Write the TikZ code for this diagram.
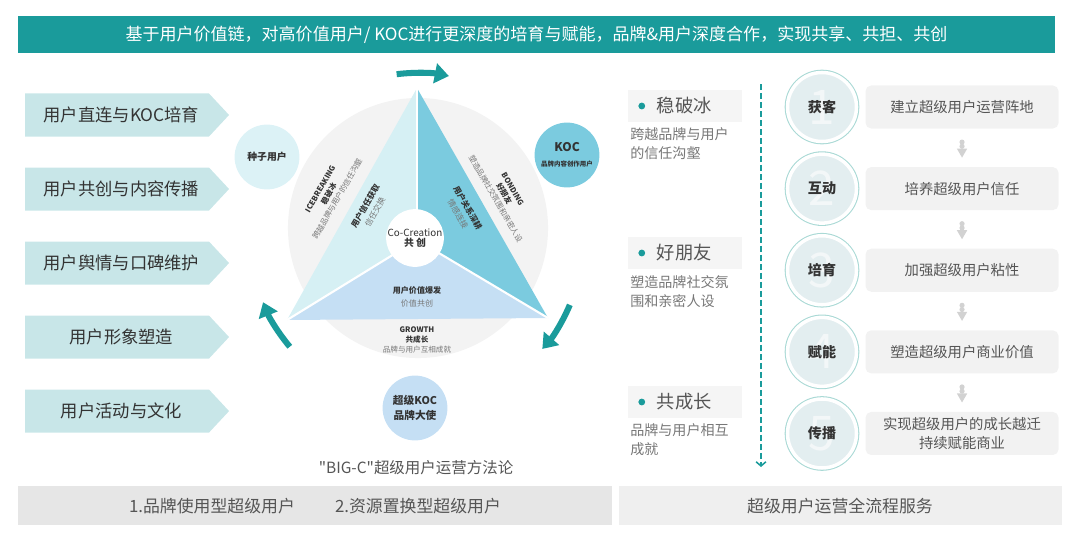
\documentclass[tikz,border=0pt]{standalone}
\usepackage{fontspec}
\setmainfont{Noto Sans CJK SC}
\newfontfamily\plaincjk{Noto Sans CJK SC}
\usepackage{tikz}
\usetikzlibrary{positioning,shapes.symbols,shapes.geometric,arrows.meta}
\definecolor{tealmain}{HTML}{1A9B9B}
\definecolor{tagfill}{HTML}{C8E6E8}
\definecolor{discgrey}{HTML}{F3F3F3}
\definecolor{icefill}{HTML}{D6F0F4}
\definecolor{bondfill}{HTML}{7BCBDF}
\definecolor{growfill}{HTML}{C5DFF4}
\definecolor{seedfill}{HTML}{DCF2F6}
\definecolor{ringteal}{HTML}{A9D9D5}
\definecolor{stagefill}{HTML}{E3EEF0}
\definecolor{boxgrey}{HTML}{F2F2F2}
\definecolor{pillgrey}{HTML}{F5F5F5}
\definecolor{barleft}{HTML}{E6E6E6}
\definecolor{barright}{HTML}{EFEFEF}
\definecolor{inkdark}{HTML}{333333}
\definecolor{inkmid}{HTML}{555555}
\definecolor{inklight}{HTML}{777777}
\definecolor{marks}{HTML}{D2D2D2}
\tikzstyle{banner}=[rectangle,fill=tealmain,text=white,minimum width=25.925cm,
                    minimum height=0.925cm,font=\fontsize{12.1}{14}\selectfont]
\tikzstyle{tag}=[signal,signal to=east,signal pointer angle=94,fill=tagfill,
                 text=inkdark,minimum width=5.1cm,minimum height=1.075cm,
                 inner sep=0pt,font=\fontsize{12.3}{14}\selectfont,
                 execute at begin node=\hspace*{0.22cm}]
\tikzstyle{sepline}=[draw=white,line width=1.5pt]
\tikzstyle{usercirc}=[circle,minimum size=1.62cm,inner sep=0pt,align=center,text=inkdark]
\tikzstyle{edgetxt}=[align=center,inner sep=0pt,text=inkdark,font=\fontsize{5.4}{7}\selectfont]
\tikzstyle{hub}=[circle,fill=white,minimum size=1.4cm,inner sep=0pt,align=center,
                 text=inkdark,font=\fontsize{7}{8}\selectfont]
\tikzstyle{cyclearrow}=[draw=tealmain,line width=4.3pt,-{Triangle[length=10pt,width=14pt]}]
\tikzstyle{pill}=[rectangle,fill=pillgrey,minimum width=2.85cm,minimum height=0.8cm]
\tikzstyle{tealdot}=[circle,fill=tealmain,minimum size=0.17cm,inner sep=0pt]
\tikzstyle{pilltxt}=[inner sep=0pt,text=inkmid,font=\fontsize{13}{14}\selectfont]
\tikzstyle{desc}=[align=left,inner sep=0pt,text=inklight,font=\fontsize{10}{13.5}\selectfont]
\tikzstyle{flowline}=[draw=tealmain,line width=1.1pt,dash pattern=on 4pt off 2.4pt,
                      -{Straight Barb[length=3pt,width=7pt]}]
\tikzstyle{stagecirc}=[circle,minimum size=1.725cm,inner sep=0pt,fill=stagefill,
                       draw=white,line width=2.5pt,preaction={draw=ringteal,line width=4pt}]
\tikzstyle{bignum}=[text=white!55!stagefill,font=\fontsize{34}{34}\selectfont]
\tikzstyle{stagetxt}=[text=inkdark,font=\bfseries\fontsize{10}{12}\selectfont]
\tikzstyle{stagebox}=[rectangle,rounded corners=4pt,fill=boxgrey,minimum width=4.825cm,
                      minimum height=1.075cm,align=center,text=inkmid,
                      font=\fontsize{10.2}{13}\selectfont]
\tikzstyle{gdot}=[circle,fill=marks,minimum size=0.13cm,inner sep=0pt]
\tikzstyle{gtri}=[regular polygon,regular polygon sides=3,shape border rotate=180,
                  fill=marks,minimum size=0.3cm,inner sep=0pt]
\tikzstyle{bar}=[rectangle,minimum height=0.975cm]
\tikzstyle{bartxt}=[text=inkmid,font=\fontsize{12}{14}\selectfont]

\begin{document}
\begin{tikzpicture}[x=0.025cm,y=-0.025cm]
  \useasboundingbox (0,0) rectangle (1080,540);

  \node[banner] (title) at (536.5,34.5)
    {基于用户价值链，对高价值用户/ KOC进行更深度的培育与赋能，品牌\&用户深度合作，实现共享、共担、共创};

  % left column
  \begin{scope}[node distance=1.85cm]
	\node[tag] (t1) at (117,115) {用户直连与KOC培育};
	\node[tag] (t2) [below of=t1] {用户共创与内容传播};
	\node[tag] (t3) [below of=t2] {用户舆情与口碑维护};
	\node[tag] (t4) [below of=t3] {用户形象塑造};
	\node[tag] (t5) [below of=t4] {用户活动与文化};
  \end{scope}

  % BIG-C triangle
  \node[circle,fill=discgrey,minimum size=6.5cm] (disc) at (418,228) {};
  \coordinate (mid) at (417,240);
  \coordinate (apex) at (417,88);
  \coordinate (lcorner) at (287,320);
  \coordinate (rcorner) at (548,318);
  \fill[icefill] (apex) -- (lcorner) -- (mid) -- cycle;
  \fill[bondfill] (apex) -- (rcorner) -- (mid) -- cycle;
  \fill[growfill] (lcorner) -- (rcorner) -- (mid) -- cycle;
  \draw[sepline] (mid) -- (apex);
  \draw[sepline] (mid) -- (lcorner);
  \draw[sepline] (mid) -- (rcorner);
  \node[hub] (hub) at (415,238) {Co-Creation\\[-1pt]\textbf{共 创}};

  \node[edgetxt,rotate=60] (ice) at (329,194)
    {\textbf{ICEBREAKING}\\\textbf{稳破冰}\\\textcolor{inklight}{跨越品牌与用户的信任沟壑}};
  \node[edgetxt,rotate=60,font=\fontsize{5.7}{8}\selectfont] (trust) at (370,209)
    {\textbf{用户信任获取}\\\textcolor{inklight}{信任交换}};
  \node[edgetxt,rotate=-60] (bond) at (504,194)
    {\textbf{BONDING}\\\textbf{好朋友}\\\textcolor{inklight}{塑造品牌社交氛围和亲密人设}};
  \node[edgetxt,rotate=-60,font=\fontsize{5.7}{8}\selectfont] (deep) at (463,211)
    {\textbf{用户关系深耕}\\\textcolor{inklight}{情感连接}};
  \node[edgetxt,font=\fontsize{5.7}{7}\selectfont] (burst) at (417,297)
    {\textbf{用户价值爆发}\\[2.5pt]\textcolor{inklight}{价值共创}};
  \node[edgetxt] (grow) at (417,340)
    {\textbf{GROWTH}\\\textbf{共成长}\\\textcolor{inklight}{品牌与用户互相成就}};

  \node[usercirc,fill=seedfill,font=\bfseries\fontsize{7}{8}\selectfont] (seed) at (267,157) {种子用户};
  \node[usercirc,fill=bondfill] (koc) at (567,155)
    {{\bfseries\fontsize{8.5}{10}\selectfont KOC}\\[-1pt]{\bfseries\fontsize{4.6}{6}\selectfont 品牌内容创作用户}};
  \node[usercirc,fill=growfill,font=\bfseries\fontsize{7.6}{10.5}\selectfont] (skoc) at (415,408)
    {超级KOC\\品牌大使};

  \path (mid) ++(97:4.175cm) coordinate (a1s);
  \path (mid) ++(-23:4.15cm) coordinate (a2s);
  \path (mid) ++(220:4.15cm) coordinate (a3s);
  \draw[cyclearrow] (a1s) arc[start angle=97,end angle=79,radius=4.175cm];
  \draw[cyclearrow] (a2s) arc[start angle=-23,end angle=-41,radius=4.15cm];
  \draw[cyclearrow] (a3s) arc[start angle=220,end angle=202,radius=4.15cm];

  \node[bartxt,font=\plaincjk\fontsize{11}{13}\selectfont] (cap) at (416,468) {"BIG-C"超级用户运营方法论};

  % middle column
  \node[pill] (p1) at (685,106) {};
  \node[tealdot] (d1) [right=0.26cm of p1.west] {};
  \node[pilltxt] (w1) [right=0.28cm of d1] {稳破冰};
  \node[desc,anchor=north west] (s1) at (630,127) {跨越品牌与用户\\的信任沟壑};
  \node[pill] (p2) at (685,253) {};
  \node[tealdot] (d2) [right=0.26cm of p2.west] {};
  \node[pilltxt] (w2) [right=0.28cm of d2] {好朋友};
  \node[desc,anchor=north west] (s2) at (630,275) {塑造品牌社交氛\\围和亲密人设};
  \node[pill] (p3) at (685,402) {};
  \node[tealdot] (d3) [right=0.26cm of p3.west] {};
  \node[pilltxt] (w3) [right=0.28cm of d3] {共成长};
  \node[desc,anchor=north west] (s3) at (630,423) {品牌与用户相互\\成就};

  \coordinate (ftop) at (761,84);
  \coordinate (fbot) at (761,467);
  \draw[flowline] (ftop) -- (fbot);

  % right column
  \begin{scope}[node distance=2.04cm]
	\node[stagecirc] (c1) at (822,107) {};
	\node[stagecirc] (c2) [below of=c1] {};
	\node[stagecirc] (c3) [below of=c2] {};
	\node[stagecirc] (c4) [below of=c3] {};
	\node[stagecirc] (c5) [below of=c4] {};
  \end{scope}
  \node[bignum] (n1) at (c1) {1};
  \node[bignum] (n2) at (c2) {2};
  \node[bignum] (n3) at (c3) {3};
  \node[bignum] (n4) at (c4) {4};
  \node[bignum] (n5) at (c5) {5};
  \node[stagetxt] (l1) at (c1) {获客};
  \node[stagetxt] (l2) at (c2) {互动};
  \node[stagetxt] (l3) at (c3) {培育};
  \node[stagetxt] (l4) at (c4) {赋能};
  \node[stagetxt] (l5) at (c5) {传播};

  \begin{scope}[node distance=3.5cm]
	\node[stagebox] (b1) [right of=c1] {建立超级用户运营阵地};
	\node[stagebox] (b2) [right of=c2] {培养超级用户信任};
	\node[stagebox] (b3) [right of=c3] {加强超级用户粘性};
	\node[stagebox] (b4) [right of=c4] {塑造超级用户商业价值};
	\node[stagebox] (b5) [right of=c5] {实现超级用户的成长越迁\\持续赋能商业};
  \end{scope}

  \path (b1) -- (b2) node[gdot,pos=.35] (m1a) {} node[gdot,pos=.46] (m1b) {} node[gtri,pos=.6] (m1c) {};
  \path (b2) -- (b3) node[gdot,pos=.35] (m2a) {} node[gdot,pos=.46] (m2b) {} node[gtri,pos=.6] (m2c) {};
  \path (b3) -- (b4) node[gdot,pos=.35] (m3a) {} node[gdot,pos=.46] (m3b) {} node[gtri,pos=.6] (m3c) {};
  \path (b4) -- (b5) node[gdot,pos=.35] (m4a) {} node[gdot,pos=.46] (m4b) {} node[gtri,pos=.6] (m4c) {};

  % bottom bars
  \node[bar,fill=barleft,minimum width=14.85cm] (barL) at (315,505.5) {};
  \node[bar,fill=barright,minimum width=11.075cm] (barR) at (840.5,505.5) {};
  \node[bartxt] (u1) at (212,506) {1.品牌使用型超级用户};
  \node[bartxt] (u2) at (418,506) {2.资源置换型超级用户};
  \node[bartxt] (u3) at (840,506) {超级用户运营全流程服务};
\end{tikzpicture}
\end{document}
